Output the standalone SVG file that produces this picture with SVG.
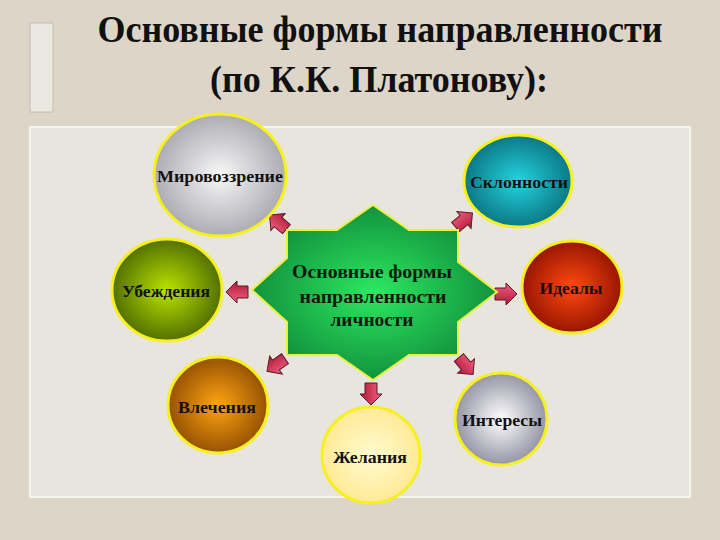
<svg xmlns="http://www.w3.org/2000/svg" width="720" height="540" viewBox="0 0 720 540">
<defs>
<style>
.title{font-family:"Liberation Serif","Times New Roman",serif;font-weight:bold;font-size:38px;fill:#111;text-anchor:middle}
.lbl{font-family:"Liberation Serif","Times New Roman",serif;font-weight:bold;font-size:16px;fill:#111;text-anchor:middle;dominant-baseline:central}
.ctr{font-family:"Liberation Serif","Times New Roman",serif;font-weight:bold;font-size:19px;fill:#0d1a0d;text-anchor:middle}
.ball{stroke:#f6f020;stroke-width:3}
.arr{fill:url(#gArr);stroke:#5a1828;stroke-width:1}
</style>
<radialGradient id="gGrey" cx="50%" cy="50%" r="55%"><stop offset="0" stop-color="#f8f8f8"/><stop offset="1" stop-color="#a4a4ac"/></radialGradient>
<radialGradient id="gTeal" cx="50%" cy="50%" r="55%"><stop offset="0" stop-color="#22d4e0"/><stop offset="1" stop-color="#0a6f7c"/></radialGradient>
<radialGradient id="gOlive" cx="50%" cy="50%" r="55%"><stop offset="0" stop-color="#b8e400"/><stop offset="1" stop-color="#4a6400"/></radialGradient>
<radialGradient id="gRed" cx="50%" cy="50%" r="55%"><stop offset="0" stop-color="#ff4a10"/><stop offset="1" stop-color="#8e1000"/></radialGradient>
<radialGradient id="gOrange" cx="50%" cy="50%" r="55%"><stop offset="0" stop-color="#ffa412"/><stop offset="1" stop-color="#8c4a00"/></radialGradient>
<radialGradient id="gPale" cx="50%" cy="50%" r="55%"><stop offset="0" stop-color="#fffbd0"/><stop offset="1" stop-color="#ffe890"/></radialGradient>
<radialGradient id="gSilver" cx="50%" cy="50%" r="55%"><stop offset="0" stop-color="#ffffff"/><stop offset="1" stop-color="#8a8a9c"/></radialGradient>
<radialGradient id="gStar" cx="50%" cy="50%" r="55%"><stop offset="0" stop-color="#2ee860"/><stop offset="1" stop-color="#0f8a3a"/></radialGradient>
<linearGradient id="gArr" x1="0" y1="0" x2="0" y2="1"><stop offset="0" stop-color="#f06080"/><stop offset="1" stop-color="#b01838"/></linearGradient>
<path id="arrow" d="M-11,-6 L0,-6 L0,-11 L11,0 L0,11 L0,6 L-11,6 Z"/>
</defs>
<rect x="0" y="0" width="720" height="540" fill="#ddd6c8"/>
<rect x="30" y="23" width="23" height="89" fill="#ebe8e2" stroke="#c4bcae" stroke-width="1"/>
<rect x="30" y="127" width="660" height="370" fill="#e8e5df" stroke="#f6f4ef" stroke-width="2"/>
<text class="title" x="380" y="42" textLength="565" lengthAdjust="spacingAndGlyphs">Основные формы направленности</text>
<text class="title" x="379" y="92" textLength="338" lengthAdjust="spacingAndGlyphs">(по К.К. Платонову):</text>

<g id="connectors">
<use href="#arrow" class="arr" transform="translate(278,222) rotate(-140)"/>
<use href="#arrow" class="arr" transform="translate(464,220) rotate(-40)"/>
<use href="#arrow" class="arr" transform="translate(237,292) rotate(180)"/>
<use href="#arrow" class="arr" transform="translate(506,294)"/>
<use href="#arrow" class="arr" transform="translate(276,365) rotate(145)"/>
<use href="#arrow" class="arr" transform="translate(371,394) rotate(90)"/>
<use href="#arrow" class="arr" transform="translate(466,366) rotate(50)"/>
</g>

<g id="center">
<path d="M373,205 L337,230 L287,230 L287,258 L252,290 L287,322 L287,355 L337,355 L373,380 L409,355 L458,355 L458,322 L497,292 L458,262 L458,230 L409,230 Z" fill="url(#gStar)" stroke="#e8f040" stroke-width="2"/>
<text class="ctr" x="372" y="278" textLength="160" lengthAdjust="spacingAndGlyphs">Основные формы</text>
<text class="ctr" x="373" y="303" textLength="147" lengthAdjust="spacingAndGlyphs">направленности</text>
<text class="ctr" x="372" y="326" textLength="83" lengthAdjust="spacingAndGlyphs">личности</text>
</g>

<g id="n-mirovozzrenie">
<ellipse class="ball" cx="220" cy="175" rx="66" ry="61" fill="url(#gGrey)"/>
<text class="lbl" x="220" y="176" textLength="126" lengthAdjust="spacingAndGlyphs">Мировоззрение</text>
</g>
<g id="n-sklonnosti">
<ellipse class="ball" cx="518" cy="181" rx="54" ry="46" fill="url(#gTeal)"/>
<text class="lbl" x="519" y="182" textLength="98" lengthAdjust="spacingAndGlyphs">Склонности</text>
</g>
<g id="n-ubezhdeniya">
<ellipse class="ball" cx="167" cy="290" rx="55" ry="51" fill="url(#gOlive)"/>
<text class="lbl" x="166" y="291" textLength="88" lengthAdjust="spacingAndGlyphs">Убеждения</text>
</g>
<g id="n-idealy">
<ellipse class="ball" cx="572" cy="287" rx="50" ry="46" fill="url(#gRed)"/>
<text class="lbl" x="571" y="288" textLength="63" lengthAdjust="spacingAndGlyphs">Идеалы</text>
</g>
<g id="n-vlecheniya">
<ellipse class="ball" cx="218" cy="405" rx="50" ry="48" fill="url(#gOrange)"/>
<text class="lbl" x="217" y="407" textLength="78" lengthAdjust="spacingAndGlyphs">Влечения</text>
</g>
<g id="n-zhelaniya">
<ellipse class="ball" cx="371" cy="455" rx="49" ry="48" fill="url(#gPale)"/>
<text class="lbl" x="370" y="457" textLength="74" lengthAdjust="spacingAndGlyphs">Желания</text>
</g>
<g id="n-interesy">
<ellipse class="ball" cx="501" cy="419" rx="46" ry="46" fill="url(#gSilver)"/>
<text class="lbl" x="502" y="420" textLength="80" lengthAdjust="spacingAndGlyphs">Интересы</text>
</g>
</svg>
